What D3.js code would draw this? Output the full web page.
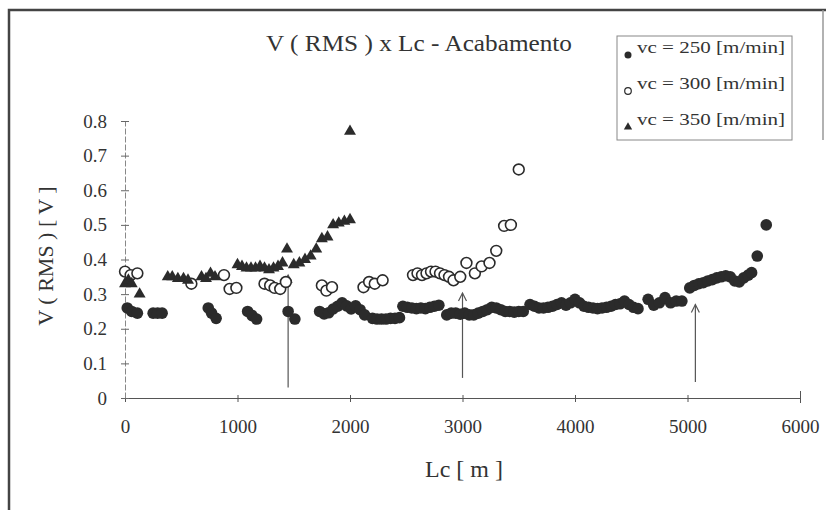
<!DOCTYPE html>
<html>
<head>
<meta charset="utf-8">
<script src="https://cdn.jsdelivr.net/npm/d3@7"></script>
<style>
  body { margin: 0; background: #fff; }
  text { font-family: "Liberation Serif", "DejaVu Serif", serif; fill: #333; }
</style>
</head>
<body>
<div id="playground"></div>
<script>
/*
  data
*/
var xTicks = [0, 1000, 2000, 3000, 4000, 5000, 6000],
    yTicks = [0, 0.1, 0.2, 0.3, 0.4, 0.5, 0.6, 0.7, 0.8],
    yTickLabels = ['0', '0.1', '0.2', '0.3', '0.4', '0.5', '0.6', '0.7', '0.8'];

var legendLabels = ['vc = 250 [m/min]', 'vc = 300 [m/min]', 'vc = 350 [m/min]'];

// vc = 250 (filled circles)
var lc250 = [20, 60, 110, 250, 290, 330, 740, 770, 810, 1090, 1130, 1170, 1450, 1510,
  1730, 1770, 1810, 1850, 1890, 1930, 1970, 2010, 2050, 2090, 2130,
  2200, 2240, 2280, 2320, 2360, 2400, 2440,
  2470, 2510, 2550, 2590, 2630, 2670, 2710, 2750, 2790,
  2860, 2900, 2940, 2980, 3020, 3060, 3100, 3140, 3180, 3220, 3260, 3300, 3340, 3380, 3420, 3460, 3500, 3540,
  3600, 3640, 3680, 3720, 3760, 3800, 3840, 3880, 3920, 3960, 4000, 4040, 4080, 4120, 4160, 4200,
  4240, 4280, 4320, 4360, 4400, 4440, 4480, 4520, 4560,
  4650, 4700, 4750, 4800, 4850, 4900, 4950,
  5020, 5060, 5100, 5140, 5180, 5220, 5260, 5300, 5340, 5380, 5420, 5460, 5500, 5540, 5570, 5620, 5700];
var v250 = [0.26, 0.25, 0.245, 0.245, 0.245, 0.245, 0.26, 0.245, 0.23, 0.25, 0.238, 0.228, 0.25, 0.228,
  0.25, 0.243, 0.246, 0.257, 0.265, 0.275, 0.266, 0.257, 0.266, 0.255, 0.24,
  0.23, 0.228, 0.228, 0.228, 0.23, 0.23, 0.232,
  0.265, 0.262, 0.26, 0.258, 0.26, 0.258, 0.262, 0.265, 0.268,
  0.24, 0.245, 0.245, 0.242, 0.245, 0.24, 0.24, 0.245, 0.25, 0.255, 0.262, 0.26, 0.255, 0.25, 0.25, 0.248, 0.25, 0.25,
  0.27, 0.265, 0.26, 0.26, 0.262, 0.265, 0.27, 0.275, 0.268, 0.275, 0.285, 0.275, 0.265, 0.262, 0.26, 0.258,
  0.26, 0.262, 0.265, 0.27, 0.272, 0.28, 0.27, 0.262, 0.258,
  0.285, 0.268, 0.275, 0.29, 0.275, 0.28, 0.28,
  0.318, 0.325, 0.33, 0.333, 0.338, 0.342, 0.347, 0.35, 0.353, 0.35, 0.338, 0.335, 0.347, 0.355, 0.362, 0.41, 0.50];

// vc = 300 (open circles)
var lc300 = [0, 50, 110, 590, 880, 930, 990, 1240, 1290, 1330, 1380, 1430, 1750, 1790, 1840,
  2120, 2170, 2220, 2290, 2560, 2600, 2640, 2680, 2720, 2760, 2800, 2840, 2880, 2920, 2980,
  3035, 3110, 3170, 3240, 3300, 3370, 3430, 3500];
var v300 = [0.365, 0.355, 0.36, 0.33, 0.355, 0.315, 0.318, 0.33, 0.325, 0.318, 0.315, 0.335, 0.325, 0.31, 0.32,
  0.32, 0.335, 0.33, 0.34, 0.355, 0.36, 0.355, 0.36, 0.365, 0.365, 0.36, 0.355, 0.35, 0.34, 0.35,
  0.39, 0.36, 0.38, 0.39, 0.425, 0.497, 0.50, 0.66];

// vc = 350 (filled triangles)
var lc350 = [0, 30, 60, 130, 380, 420, 470, 520, 560, 680, 720, 760, 800,
  1000, 1040, 1080, 1120, 1160, 1200, 1240, 1280, 1320, 1360, 1400, 1440,
  1500, 1550, 1600, 1650, 1700, 1750, 1800, 1850, 1900, 1950, 2000, 2000];
var v350 = [0.33, 0.34, 0.33, 0.30, 0.35, 0.35, 0.345, 0.345, 0.34, 0.35, 0.345, 0.36, 0.35,
  0.385, 0.38, 0.375, 0.375, 0.375, 0.38, 0.375, 0.37, 0.375, 0.38, 0.39, 0.43,
  0.385, 0.39, 0.40, 0.41, 0.43, 0.46, 0.465, 0.50, 0.505, 0.51, 0.515, 0.77];

// the three arrows drawn on the chart
var arrowLc = [1450, 3000, 5070],
    arrowFrom = [0.03, 0.058, 0.046],
    arrowTo = [0.355, 0.303, 0.27];

var svg = d3.select('#playground')
  .append('svg')
    .attr('width', 826)
    .attr('height', 510);

var x = d3.scaleLinear().domain([0, 6000]).range([125, 800]),
    y = d3.scaleLinear().domain([0, 0.8]).range([398, 121]);

/*
  outer frame of the scanned figure
*/
svg.append('path')
  .attr('d', 'M9,512V10H830')
  .attr('fill', 'none')
  .attr('stroke', '#444')
  .attr('stroke-width', 2.5);
svg.append('line')
  .attr('x1', 823).attr('x2', 823).attr('y1', 10).attr('y2', 140)
  .attr('stroke', '#999').attr('stroke-width', 1.5);

// title
svg.append('text')
  .attr('x', 419).attr('y', 51)
  .attr('text-anchor', 'middle')
  .attr('textLength', 306)
  .attr('lengthAdjust', 'spacingAndGlyphs')
  .style('font-size', '24px')
  .text('V ( RMS ) x Lc - Acabamento');

/*
  axes, ticks cross the axis line like in the original
*/
var xAxis = svg.append('g')
  .attr('transform', 'translate(0,' + y(0) + ')')
  .call(d3.axisBottom(x).tickValues(xTicks).tickSize(0).tickPadding(22).tickFormat(d3.format('d')));
xAxis.select('.domain').attr('stroke', '#555').attr('stroke-width', 1.2);
xAxis.selectAll('.tick line')
  .attr('y1', function(d) { return d === 6000 ? -7 : -3; })
  .attr('y2', function(d) { return d === 6000 ? 5 : 4; })
  .attr('stroke', '#555');
xAxis.selectAll('.tick text')
  .style('font-size', '19px')
  .attr('fill', '#333');

var yAxis = svg.append('g')
  .attr('transform', 'translate(' + x(0) + ',0)')
  .call(d3.axisLeft(y).tickValues(yTicks).tickSize(0).tickPadding(18)
    .tickFormat(function(d, i) { return yTickLabels[i]; }));
yAxis.select('.domain').attr('stroke', '#888').attr('stroke-width', 1).attr('stroke-dasharray', '6,2');
yAxis.selectAll('.tick line')
  .attr('x1', -4).attr('x2', 4)
  .attr('stroke', '#666');
yAxis.selectAll('.tick text')
  .style('font-size', '19px')
  .attr('fill', '#333');

// axis titles
svg.append('text')
  .attr('x', 464).attr('y', 477)
  .attr('text-anchor', 'middle')
  .style('font-size', '24px')
  .text('Lc [ m ]');
svg.append('text')
  .attr('transform', 'translate(53,256) rotate(-90)')
  .attr('text-anchor', 'middle')
  .style('font-size', '22px')
  .text('V ( RMS ) [ V ]');

/*
  arrows
*/
var arrows = svg.append('g').attr('stroke', '#555').attr('stroke-width', 1.2).attr('fill', 'none');
arrowLc.forEach(function(lc, i) {
  var ax = x(lc), top = y(arrowTo[i]);
  arrows.append('line')
    .attr('x1', ax).attr('x2', ax)
    .attr('y1', y(arrowFrom[i])).attr('y2', top);
  arrows.append('path')
    .attr('d', 'M' + (ax - 4) + ',' + (top + 8) + 'L' + ax + ',' + top + 'L' + (ax + 4) + ',' + (top + 8));
});

/*
  the three series
*/
var dark = '#2b2b2b';

svg.append('g').selectAll('circle')
  .data(lc250.map(function(d, i) { return [d, v250[i]]; }))
  .enter()
    .append('circle')
      .attr('cx', function(d) { return x(d[0]); })
      .attr('cy', function(d) { return y(d[1]); })
      .attr('r', 5.8)
      .attr('fill', dark);

svg.append('g').selectAll('circle')
  .data(lc300.map(function(d, i) { return [d, v300[i]]; }))
  .enter()
    .append('circle')
      .attr('cx', function(d) { return x(d[0]); })
      .attr('cy', function(d) { return y(d[1]); })
      .attr('r', 5.4)
      .attr('fill', '#fff')
      .attr('stroke', dark)
      .attr('stroke-width', 1.6);

var tri = d3.symbol().type(d3.symbolTriangle).size(62);
svg.append('g').selectAll('path')
  .data(lc350.map(function(d, i) { return [d, v350[i]]; }))
  .enter()
    .append('path')
      .attr('d', tri)
      .attr('transform', function(d) { return 'translate(' + x(d[0]) + ',' + y(d[1]) + ')'; })
      .attr('fill', dark);

/*
  legend
*/
var legend = svg.append('g');
legend.append('rect')
  .attr('x', 617).attr('y', 36).attr('width', 175).attr('height', 104)
  .attr('fill', 'none').attr('stroke', '#888').attr('stroke-width', 1);

var rows = legend.selectAll('g.row')
  .data(legendLabels)
  .enter()
    .append('g')
      .attr('class', 'row')
      .attr('transform', function(d, i) { return 'translate(0,' + (48 + i * 36) + ')'; });
rows.append('text')
  .attr('x', 637).attr('y', 5)
  .attr('textLength', 148)
  .attr('lengthAdjust', 'spacingAndGlyphs')
  .style('font-size', '16px')
  .text(function(d) { return d; });

legend.append('circle').attr('cx', 628).attr('cy', 55).attr('r', 3.5).attr('fill', dark);
legend.append('circle').attr('cx', 628).attr('cy', 91).attr('r', 3.3).attr('fill', '#fff').attr('stroke', dark).attr('stroke-width', 1.2);
legend.append('path').attr('d', d3.symbol().type(d3.symbolTriangle).size(30))
  .attr('transform', 'translate(628,127)').attr('fill', dark);

console.log('drawn', lc250.length + lc300.length + lc350.length, 'points');
</script>
</body>
</html>
